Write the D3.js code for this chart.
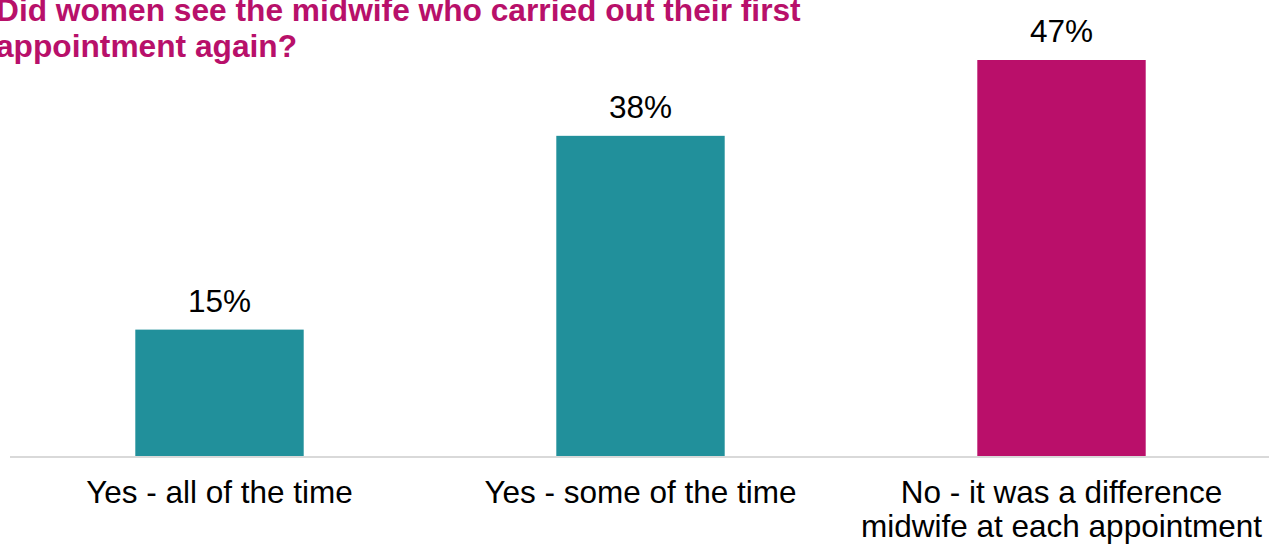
<!DOCTYPE html>
<html>
<head>
<meta charset="utf-8">
<script src="https://cdn.jsdelivr.net/npm/d3@7"></script>
<style>
  html, body { margin: 0; padding: 0; background: #ffffff; overflow: hidden; }
  svg { display: block; font-family: "Liberation Sans", Arial, sans-serif; }
</style>
</head>
<body>
<svg id="chart" width="1269" height="544"></svg>
<script>
// Survey answers and shares of respondents (%)
const categories = [
  ["Yes - all of the time"],
  ["Yes - some of the time"],
  ["No - it was a difference", "midwife at each appointment"]
];
const values = [15, 38, 47];
const barColors = ["#21909B", "#21909B", "#BA0F6A"];
const titleLines = [
  "Did women see the midwife who carried out their first",
  "appointment again?"
];

const svg = d3.select("#chart");
const W = 1269;

const x = d3.scaleBand()
  .domain(d3.range(values.length))
  .range([9, 1272])
  .paddingInner(0.6)
  .paddingOuter(0.3);

const y = d3.scaleLinear()
  .domain([0, 47])
  .range([456, 60]);

// Title (runs slightly past the left edge of the frame)
const title = svg.append("text")
  .attr("x", -4)
  .attr("y", 21)
  .attr("fill", "#B8106A")
  .attr("font-weight", "bold")
  .attr("font-size", "31.7px");
title.selectAll("tspan")
  .data(titleLines)
  .join("tspan")
  .attr("x", -4)
  .attr("dy", (d, i) => i === 0 ? 0 : 36)
  .text(d => d);

// Bars
svg.append("g")
  .selectAll("rect")
  .data(values)
  .join("rect")
  .attr("x", (d, i) => x(i))
  .attr("width", x.bandwidth())
  .attr("y", d => y(d))
  .attr("height", d => y(0) - y(d))
  .attr("fill", (d, i) => barColors[i]);

// Value labels
svg.append("g")
  .selectAll("text")
  .data(values)
  .join("text")
  .attr("x", (d, i) => x(i) + x.bandwidth() / 2)
  .attr("y", d => y(d) - 18)
  .attr("text-anchor", "middle")
  .attr("font-size", "31.5px")
  .attr("fill", "#000")
  .text(d => d + "%");

// Baseline
svg.append("line")
  .attr("x1", 10)
  .attr("x2", W)
  .attr("y1", y(0) + 1)
  .attr("y2", y(0) + 1)
  .attr("stroke", "#D9D9D9")
  .attr("stroke-width", 2);

// Category labels
const cat = svg.append("g")
  .selectAll("text")
  .data(categories)
  .join("text")
  .attr("text-anchor", "middle")
  .attr("font-size", "31.5px")
  .attr("fill", "#000")
  .attr("y", 503);
cat.selectAll("tspan")
  .data((d, i) => d.map(line => ({ line, i })))
  .join("tspan")
  .attr("x", d => x(d.i) + x.bandwidth() / 2)
  .attr("dy", (d, j) => j === 0 ? 0 : 33.5)
  .text(d => d.line);
</script>
</body>
</html>
